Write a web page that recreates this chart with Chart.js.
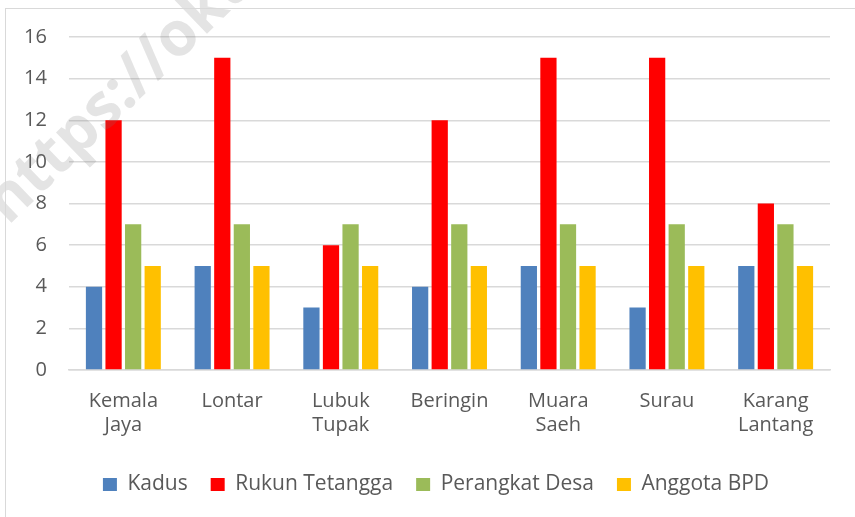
<!DOCTYPE html>
<html>
<head>
<meta charset="utf-8">
<script src="https://cdn.jsdelivr.net/npm/chart.js@4/dist/chart.umd.min.js"></script>
<style>
  html, body { margin: 0; padding: 0; background: #fff; }
  #wrap { position: relative; width: 855px; height: 517px; }
  #frame { position: absolute; left: 5px; top: 8px; width: 900px; height: 600px; border: 1px solid #d9d9d9; pointer-events: none; }
</style>
</head>
<body>
<div id="wrap">
  <canvas id="myBarChart" width="855" height="517"></canvas>
  <div id="frame"></div>
</div>
<script>
var desaLabels = [
	['Kemala', 'Jaya'],
	'Lontar',
	['Lubuk', 'Tupak'],
	'Beringin',
	['Muara', 'Saeh'],
	'Surau',
	['Karang', 'Lantang']
];
var kadusData = [4, 5, 3, 4, 5, 3, 5];
var rukunTetanggaData = [12, 15, 6, 12, 15, 15, 8];
var perangkatDesaData = [7, 7, 7, 7, 7, 7, 7];
var anggotaBpdData = [5, 5, 5, 5, 5, 5, 5];
var yTicks = [0, 2, 4, 6, 8, 10, 12, 14, 16];

var textGrey = '#595959';

// faint watermark across the top-left corner
var watermark = {
	id: 'watermark',
	afterDraw: function(chart) {
		var c = chart.ctx;
		c.save();
		c.translate(8, 226);
		c.rotate(-44 * Math.PI / 180);
		c.font = 'bold 62px "Open Sans"';
		c.fillStyle = 'rgba(120, 120, 120, 0.2)';
		c.textBaseline = 'alphabetic';
		c.fillText('https://okuselatankab.go.id', 0, 0);
		c.restore();
	}
};

var ctx = document.getElementById('myBarChart').getContext('2d');
var myBarChart = new Chart(ctx, {
	type: 'bar',
	data: {
		labels: desaLabels,
		datasets: [
			{ label: 'Kadus', data: kadusData, backgroundColor: '#4F81BD' },
			{ label: 'Rukun Tetangga', data: rukunTetanggaData, backgroundColor: '#FF0000' },
			{ label: 'Perangkat Desa', data: perangkatDesaData, backgroundColor: '#9BBB59' },
			{ label: 'Anggota BPD', data: anggotaBpdData, backgroundColor: '#FFC000' }
		]
	},
	options: {
		responsive: false,
		animation: false,
		categoryPercentage: 0.72,
		barPercentage: 0.83,
		layout: {
			// left padding pushes the legend a bit right, y axis narrowed to match
			padding: { left: 42, right: 25, top: 37, bottom: 12 }
		},
		scales: {
			x: {
				grid: { display: false, drawTicks: false },
				border: { display: true, color: '#d9d9d9', width: 1.5 },
				ticks: {
					color: textGrey,
					padding: 19,
					font: { family: '"Open Sans"', size: 20, lineHeight: 1.2 }
				},
				afterFit: function(scale) { scale.height = 81; }
			},
			y: {
				min: 0,
				max: 16,
				afterBuildTicks: function(scale) {
					scale.ticks = yTicks.map(function(v) { return { value: v }; });
				},
				grid: { color: '#d9d9d9', lineWidth: 1.5, drawTicks: false },
				border: { display: false },
				ticks: {
					// mirrored so the labels are not clipped to the narrow axis box
					mirror: true,
					crossAlign: 'far',
					color: textGrey,
					padding: -45,
					font: { family: '"Open Sans"', size: 20 }
				},
				afterFit: function(scale) { scale.width = 27; }
			}
		},
		plugins: {
			legend: {
				position: 'bottom',
				labels: {
					color: textGrey,
					boxWidth: 14,
					boxHeight: 13,
					padding: 23,
					font: { family: '"Open Sans"', size: 21 }
				}
			},
			tooltip: { enabled: false }
		}
	},
	plugins: [watermark]
});
</script>
</body>
</html>
